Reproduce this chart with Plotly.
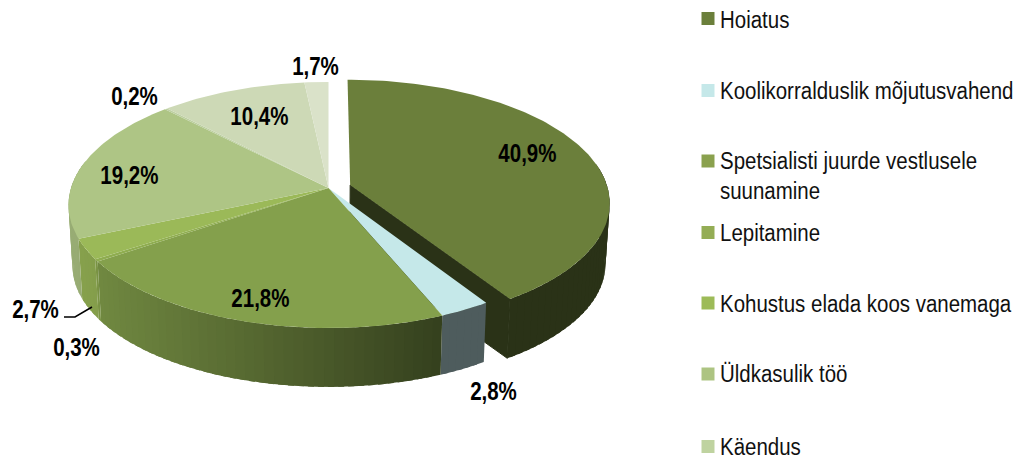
import numpy as np
import plotly.graph_objects as go

# slice shares in percent, clockwise from 12 o'clock
slice_values = [40.9, 2.8, 21.8, 0.3, 2.7, 19.2, 0.2, 10.4, 1.7]
slice_colors = ['#6B7F3B', '#C5E8E9', '#84A04C', '#8FAD50', '#9BB958', '#AEC585', '#BCCFA0', '#CDD9B6', '#DAE2C9']

legend_labels = ['Hoiatus', 'Koolikorralduslik mõjutusvahend', 'Spetsialisti juurde vestlusele<br>suunamine',
                 'Lepitamine', 'Kohustus elada koos vanemaga', 'Üldkasulik töö', 'Käendus']
legend_colors = ['#6B7F3B', '#C5E8E9', '#8AA14E', '#94AD55', '#9DBB58', '#ADC482', '#BFD3A0']
legend_y = [18.5, 90.5, 161, 232.5, 303, 374, 446.5]
legend_text_y = [20, 91, 176, 233, 304, 374, 447]

# where each value label sits, same order as slice_values
label_x = [527, 493, 260, 76, 35, 129, 134, 259, 315]
label_y = [153, 391, 298, 347, 309, 175, 96, 116, 66]

# projection of the pie disc to the screen
CX, CY = 328.5, 188
A, B, K = 257.5, 120.7, 0.138
DEPTH, BOTTOM_SCALE = 61, 0.985
PULL = 0.088

FONT = 'Liberation Sans, Arial'

# the original text is a condensed face, none is installed so squeeze the svg text instead
SQUEEZE_JS = """
document.body.style.margin = '0';
document.querySelectorAll('text.annotation-text').forEach(function (t) {
    var box = t.getBBox();
    var bold = parseInt(t.style.fontWeight) >= 600 || t.style.fontWeight === 'bold';
    var s = bold ? 0.82 : 0.89;
    var pivot = bold ? box.x + box.width / 2 : box.x;
    t.setAttribute('transform', 'translate(' + pivot * (1 - s) + ',0) scale(' + s + ',1)');
});
"""


def project(u, v, bottom=False):
    w = 1 - K * v
    if bottom:
        return CX + BOTTOM_SCALE * A * u / w, CY + DEPTH + BOTTOM_SCALE * B * v / w
    return CX + A * u / w, CY + B * v / w


def disc_point(theta, offset=(0, 0), radius=1.0):
    return radius * np.sin(theta) + offset[0], -radius * np.cos(theta) + offset[1]


def shade(hex_color, x):
    # side walls get darker towards the right, flat after x=440
    f = np.interp(x, [68, 100, 440], [0.88, 0.85, 0.40])
    rgb = [int(hex_color[i:i + 2], 16) for i in (1, 3, 5)]
    return 'rgb({},{},{})'.format(*[int(c * f) for c in rgb])


def polygon(xs, ys, color, edge=0):
    return go.Scatter(x=list(xs), y=list(ys), mode='lines', fill='toself', fillcolor=color,
                      line={'color': color, 'width': edge}, hoverinfo='skip', showlegend=False)


def wall_traces(start, end, color, offset=(0, 0)):
    n = max(2, int(np.degrees(end - start) / 2) + 1)
    angles = np.linspace(start, end, n + 1)
    step = angles[1] - angles[0]
    traces = []
    for a0 in angles[:-1]:
        # back of the disc is hidden by its own top
        if -np.cos(a0) < -0.2:
            continue
        # strips overlap the next one so no seams show
        a1 = min(a0 + 1.6 * step, end)
        x0, y0 = project(*disc_point(a0, offset))
        x1, y1 = project(*disc_point(a1, offset))
        x2, y2 = project(*disc_point(a1, offset), bottom=True)
        x3, y3 = project(*disc_point(a0, offset), bottom=True)
        traces.append(polygon([x0, x1, x2, x3, x0], [y0, y1, y2, y3, y0], shade(color, (x0 + x1) / 2)))
    return traces


def top_trace(start, end, color, offset=(0, 0)):
    angles = np.linspace(start, end, max(3, int(np.degrees(end - start)) + 2))
    u, v = disc_point(angles, offset)
    x, y = project(u, v)
    ax, ay = project(*offset)
    return polygon(np.r_[ax, x, ax], np.r_[ay, y, ay], color)


edges = np.radians(np.r_[0, np.cumsum(slice_values)] * 3.6)
fig = go.Figure()

# pulled out slice goes first, the rest of the pie overlaps its inner wall
mid = (edges[0] + edges[1]) / 2
pull = (PULL * np.sin(mid), -PULL * np.cos(mid))
ax, ay = project(*pull)
bx, by = project(*pull, bottom=True)
ex, ey = project(*disc_point(edges[1], pull))
fx, fy = project(*disc_point(edges[1], pull), bottom=True)
fig.add_trace(polygon([ax, ex, fx, bx, ax], [ay, ey, fy, by, ay], shade(slice_colors[0], 600), edge=1))
fig.add_traces(wall_traces(edges[0], edges[1], slice_colors[0], pull))
fig.add_trace(top_trace(edges[0], edges[1], slice_colors[0], pull))

for i in range(1, len(slice_values)):
    fig.add_traces(wall_traces(edges[i], edges[i + 1], slice_colors[i]))
for i in range(1, len(slice_values)):
    fig.add_trace(top_trace(edges[i], edges[i + 1], slice_colors[i]))

# leader line of the 2,7% label
fig.add_trace(go.Scatter(x=[64, 75, 92], y=[317, 317, 307], mode='lines', line={'color': '#000000', 'width': 1.5},
                         hoverinfo='skip', showlegend=False))

# legend squares
fig.add_trace(go.Scatter(x=[708] * len(legend_y), y=legend_y, mode='markers', hoverinfo='skip', showlegend=False,
                         marker={'symbol': 'square', 'size': 13, 'color': legend_colors}))

for val, x, y in zip(slice_values, label_x, label_y):
    fig.add_annotation(x=x, y=y, text='{:.1f}%'.format(val).replace('.', ','), showarrow=False,
                       font={'family': FONT, 'size': 25, 'color': '#000000', 'weight': 'bold'})

for label, y in zip(legend_labels, legend_text_y):
    fig.add_annotation(x=718, y=y, text=label, showarrow=False, xanchor='left', align='left',
                       font={'family': FONT, 'size': 23, 'color': '#111111'})

fig.update_layout(width=1018, height=457, margin={'l': 0, 'r': 0, 't': 0, 'b': 0},
                  paper_bgcolor='#FFFFFF', plot_bgcolor='#FFFFFF', showlegend=False,
                  xaxis={'range': [0, 1018], 'visible': False, 'fixedrange': True},
                  yaxis={'range': [457, 0], 'visible': False, 'fixedrange': True})

fig.write_html('out.html', config={'displayModeBar': False}, post_script=SQUEEZE_JS)
